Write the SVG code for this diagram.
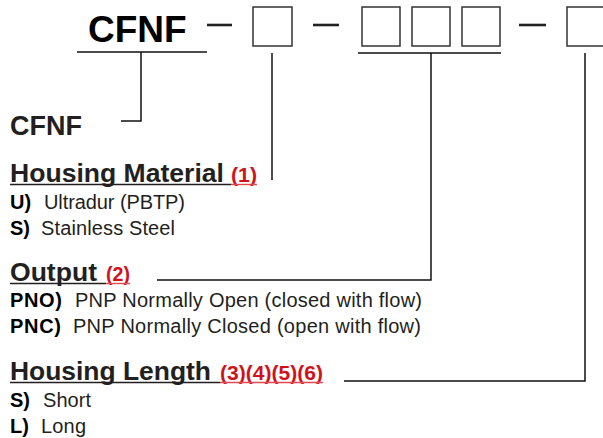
<svg xmlns="http://www.w3.org/2000/svg" width="603" height="438" viewBox="0 0 603 438">
<style>
  text { font-family: "Liberation Sans", Arial, sans-serif; fill: #231f20; }
  .title { font-size: 37px; font-weight: bold; fill: #000; }
  .code { font-size: 27px; font-weight: bold; }
  .head { font-size: 26.5px; font-weight: bold; }
  .ref { font-size: 21px; font-weight: bold; fill: #d0121b; }
  .lbl { font-size: 20px; font-weight: bold; fill: #000; }
  .opt { font-size: 20px; }
  .box { fill: #fff; stroke: #333; stroke-width: 1.5; }
  .dash { stroke: #222; stroke-width: 2.6; }
  .conn { fill: none; stroke: #111; stroke-width: 1.5; }
  .ul { stroke: #231f20; stroke-width: 1.4; }
  .ulr { stroke: #e04a50; stroke-width: 1.4; }
</style>
<g id="part-number">
  <text class="title" x="88" y="42">CFNF</text>
  <line class="dash" x1="207" y1="25" x2="232" y2="25"/>
  <rect id="box1" class="box" x="253" y="7" width="39" height="39"/>
  <line class="dash" x1="313" y1="25" x2="339" y2="25"/>
  <rect id="box2" class="box" x="362" y="7" width="38" height="39"/>
  <rect id="box3" class="box" x="412" y="7" width="38" height="39"/>
  <rect id="box4" class="box" x="462" y="7" width="38" height="39"/>
  <line class="dash" x1="519" y1="25" x2="546" y2="25"/>
  <rect id="box5" class="box" x="567" y="7" width="39" height="39"/>
</g>
<g id="connectors">
  <line class="conn" x1="77" y1="52" x2="207" y2="52"/>
  <polyline class="conn" points="141,52 141,121 121,121"/>
  <line class="conn" x1="272" y1="53" x2="272" y2="180"/>
  <line class="conn" x1="358" y1="53" x2="501" y2="53" stroke="#333"/>
  <polyline class="conn" points="431,53 431,280 157,280"/>
  <polyline class="conn" points="585,53 585,381 344,381"/>
</g>
<g id="cfnf">
  <text class="code" x="10" y="135">CFNF</text>
</g>
<g id="housing-material">
  <text class="head" x="10" y="182" textLength="214" lengthAdjust="spacingAndGlyphs">Housing Material</text>
  <text class="ref" x="231" y="182" textLength="26" lengthAdjust="spacingAndGlyphs">(1)</text>
  <line class="ul" x1="10" y1="184.5" x2="231" y2="184.5"/>
  <line class="ulr" x1="231" y1="184.5" x2="257" y2="184.5"/>
  <text class="lbl" x="10" y="209">U)</text>
  <text class="opt" x="44" y="209" textLength="141">Ultradur (PBTP)</text>
  <text class="lbl" x="10" y="235">S)</text>
  <text class="opt" x="41" y="235" textLength="134">Stainless Steel</text>
</g>
<g id="output">
  <text class="head" x="10" y="281" textLength="87" lengthAdjust="spacingAndGlyphs">Output</text>
  <text class="ref" x="106" y="281" textLength="24" lengthAdjust="spacingAndGlyphs">(2)</text>
  <line class="ul" x1="10" y1="283.5" x2="106" y2="283.5"/>
  <line class="ulr" x1="106" y1="283.5" x2="130" y2="283.5"/>
  <text class="lbl" x="10" y="307" textLength="52">PNO)</text>
  <text class="opt" x="75" y="307" textLength="347">PNP Normally Open (closed with flow)</text>
  <text class="lbl" x="10" y="333" textLength="51">PNC)</text>
  <text class="opt" x="73" y="333" textLength="348">PNP Normally Closed (open with flow)</text>
</g>
<g id="housing-length">
  <text class="head" x="10" y="380" textLength="201" lengthAdjust="spacingAndGlyphs">Housing Length</text>
  <text class="ref" x="220" y="380" textLength="103" lengthAdjust="spacingAndGlyphs">(3)(4)(5)(6)</text>
  <line class="ul" x1="10" y1="382.5" x2="220" y2="382.5"/>
  <line class="ulr" x1="220" y1="382.5" x2="323" y2="382.5"/>
  <text class="lbl" x="10" y="407">S)</text>
  <text class="opt" x="43" y="407" textLength="48">Short</text>
  <text class="lbl" x="10" y="433">L)</text>
  <text class="opt" x="41" y="433" textLength="45">Long</text>
</g>
</svg>
